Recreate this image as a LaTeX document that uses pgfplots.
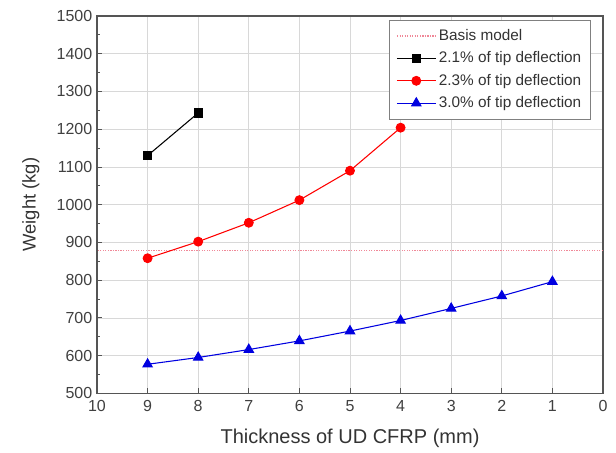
\documentclass[border=0pt]{standalone}
\usepackage{fontspec}
\setmainfont{Liberation Sans}
\usepackage{pgfplots}
\pgfplotsset{compat=1.18}

\definecolor{axgray}{HTML}{555555}
\definecolor{gridgray}{HTML}{D8D8D8}
\definecolor{basis}{HTML}{F08898}
\definecolor{mred}{HTML}{FF0000}
\definecolor{mblue}{HTML}{0000E0}

\begin{document}
\begin{tikzpicture}[x=0.75pt,y=0.75pt]
\begin{axis}[
  name=main,
  scale only axis,
  width=379.5pt, height=283pt,
  xmin=0, xmax=10, ymin=500, ymax=1500,
  x dir=reverse,
  xtick={0,1,...,10},
  ytick={500,600,...,1500},
  minor y tick num=1,
  tick align=inside,
  major tick length=4pt, minor tick length=2pt,
  xtick pos=bottom, ytick pos=left,
  grid=major,
  major grid style={gridgray, line width=0.5pt},
  axis line style={axgray, line width=0.8pt},
  every tick/.style={axgray, line width=0.6pt},
  tick label style={font=\fontsize{12}{14}\selectfont, text=black!75},
  xticklabel style={yshift=-2pt},
  /pgf/number format/assume math mode=true,
  /pgf/number format/1000 sep={},
  xlabel={Thickness of UD CFRP (mm)},
  ylabel={Weight (kg)},
  xlabel style={font=\fontsize{15}{18}\selectfont, text=black!80, yshift=-6pt},
  ylabel style={font=\fontsize{13.8}{16}\selectfont, text=black!80, yshift=6pt},
  legend style={at={(0.976,0.99)}, anchor=north east, draw=black!50,
    font=\fontsize{11.5}{13}\selectfont, text=black!80,
    row sep=3pt, inner xsep=5pt, inner ysep=5pt},
  legend cell align=left,
  legend image code/.code={%
    \draw[mark repeat=2,mark phase=2] plot coordinates {(0pt,0pt) (14.5pt,0pt) (29pt,0pt)};},
]
\addplot[basis, densely dotted, line width=0.9pt] coordinates {(0,878) (10,878)};
\addlegendentry{Basis model}
\addplot[black, line width=0.8pt, mark=square*, mark size=3pt] coordinates {
  (9,1130) (8,1243)};
\addlegendentry{2.1\% of tip deflection}
\addplot[mred, line width=0.8pt, mark=*, mark size=3.3pt] coordinates {
  (9,858) (8,902) (7,952) (6,1012) (5,1090) (4,1204)};
\addlegendentry{2.3\% of tip deflection}
\addplot[mblue, line width=0.8pt, mark=triangle*, mark size=4pt] coordinates {
  (9,577) (8,595) (7,616) (6,639) (5,665) (4,693) (3,725) (2,758) (1,796)};
\addlegendentry{3.0\% of tip deflection}
\end{axis}
\useasboundingbox ([xshift=-72.75pt,yshift=-42pt]main.south west) rectangle ([xshift=9.75pt,yshift=12pt]main.north east);
\end{tikzpicture}
\end{document}
